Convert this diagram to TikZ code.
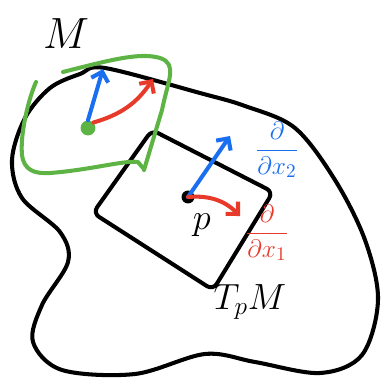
\documentclass[tikz,border=0pt]{standalone}
\usepackage{amsmath}
\usetikzlibrary{positioning, calc, arrows.meta}

\definecolor{penblue}{HTML}{1A6EF0}
\definecolor{penred}{HTML}{E83A2A}
\definecolor{pengreen}{HTML}{5DB445}

\begin{document}
\begin{tikzpicture}[
    x=0.02cm, y=-0.02cm,
    >={Straight Barb[length=5pt, width=10pt]},
    pen/.style={line width=2.3pt, line cap=round, line join=round},
    dot/.style={circle, fill=black, inner sep=2.6pt, outer sep=0pt},
    lbl/.style={inner sep=1pt, font=\fontsize{20}{24}\selectfont},
    frac/.style={inner sep=1pt, font=\fontsize{15}{18}\selectfont}
]
\useasboundingbox (0,0) rectangle (380,383);

% ==========================================
% 1. Manifold M (outer blob)
% ==========================================
\draw[pen] plot[smooth cycle, tension=0.55] coordinates {
    (80,74) (105,68) (200,93) (245,106) (295,128) (335,180) (365,240)
    (378,300) (362,355) (320,373) (255,362) (205,354) (135,374) (62,370)
    (33,342) (42,305) (68,262) (60,232) (22,198) (12,160) (25,118) (50,88)};
\node[lbl, font=\fontsize{32}{36}\selectfont] (labM) at (66,34) {$M$};

% ==========================================
% 2. Tangent plane T_pM
% ==========================================
\draw[pen, rounded corners=4pt]
    (152,130) -- (273,192) -- (213,290) -- (93,213) -- cycle;
\node[lbl] (labT) at (250,302) {$T_pM$};

% Point p with its basis vectors
\node[dot] (p) at (188,197) {};
\node[lbl, below right=6pt and -1pt of p] (labp) {$p$};

\coordinate (tipB) at (230,136);
\coordinate (tipR) at (240,216);
\draw[pen, penblue, ->] (p.center) -- (tipB);
\draw[pen, penred, ->] (p.center) to[bend left=25] (tipR);

\node[frac, penblue] (labB) at (277,150) {$\dfrac{\partial}{\partial x_2}$};
\node[frac, penred]  (labR) at (267,233) {$\dfrac{\partial}{\partial x_1}$};

% ==========================================
% 3. Chart (green patch) on M
% ==========================================
\draw[pen, pengreen] (63,72) .. controls (110,60) and (140,52) .. (160,58)
    .. controls (178,64) and (168,80) .. (162,110) -- (144,170);
\draw[pen, pengreen] (36,82) .. controls (28,100) and (20,135) .. (22,155)
    .. controls (24,170) and (34,174) .. (50,173)
    .. controls (90,170) and (125,160) .. (138,162) -- (143,168);

\node[circle, fill=pengreen, inner sep=3pt] (q) at (88,128) {};
\coordinate (tipb) at (103,69);
\coordinate (tipr) at (153,79);
\draw[pen, penblue, ->] (q.north) -- (tipb);
\draw[pen, penred, ->] (q.north east) to[bend right=20] (tipr);

\end{tikzpicture}
\end{document}
